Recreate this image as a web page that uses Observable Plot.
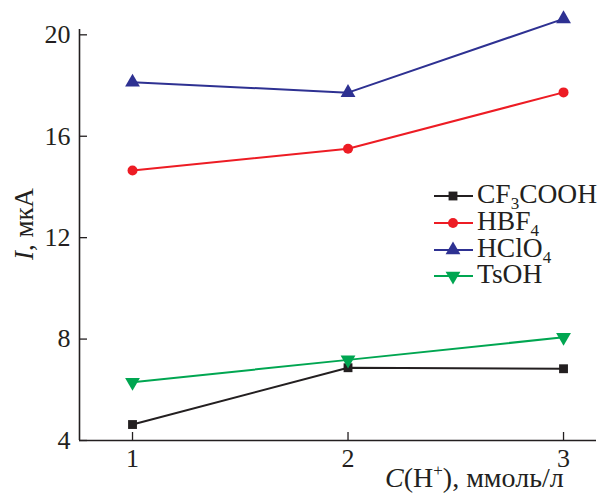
<!DOCTYPE html>
<html><head><meta charset="utf-8">
<script src="https://cdn.jsdelivr.net/npm/d3@7"></script>
<script src="https://cdn.jsdelivr.net/npm/@observablehq/plot@0.6"></script>
<style>
body{margin:0;background:#fff}
#chart{position:relative;width:603px;height:495px}
#chart svg, #chart svg text{font-family:"Liberation Serif","Times New Roman",serif !important}
</style>
</head><body><div id="chart"></div>
<script>
// Data
const xValues = [1, 2, 3];
const cf3coohValues = [4.63, 6.87, 6.83];
const hbf4Values = [14.65, 15.51, 17.73];
const hclo4Values = [18.13, 17.72, 20.63];
const tsohValues = [6.30, 7.18, 8.07];
const xTicks = [1, 2, 3];
const yTicks = [4, 8, 12, 16, 20];
const xDomain = [0.754, 3.153];
const yDomain = [4, 20.21];

const seriesList = [
  {key: "CF3COOH", values: cf3coohValues, color: "#231f20", symbol: "square", rotate: 0, r: 5, label: ["CF", "3", "COOH"]},
  {key: "HBF4", values: hbf4Values, color: "#ed1c24", symbol: "circle", rotate: 0, r: 5, label: ["HBF", "4", ""]},
  {key: "HClO4", values: hclo4Values, color: "#2e3192", symbol: "triangle", rotate: 0, r: 5.5, label: ["HClO", "4", ""]},
  {key: "TsOH", values: tsohValues, color: "#00a651", symbol: "triangle", rotate: 180, r: 5.5, label: ["TsOH", "", ""]}
];
const ink = "#231f20";
const font = "Liberation Serif";

const marks = [];
for (const s of seriesList) {
  const rows = xValues.map((x, i) => ({x, y: s.values[i]}));
  marks.push(Plot.line(rows, {x: "x", y: "y", stroke: s.color, strokeWidth: 2}));
  marks.push(Plot.dot(rows, {x: "x", y: "y", fill: s.color, stroke: "none", symbol: s.symbol, r: s.r, rotate: s.rotate}));
}

const chart = Plot.plot({
  width: 603, height: 495,
  marginLeft: 79, marginRight: 7, marginTop: 29, marginBottom: 55,
  style: {fontSize: "25px", color: ink, background: "#fff"},
  x: {domain: xDomain, axis: null},
  y: {domain: yDomain, axis: null},
  marks: [
    Plot.axisY(yTicks, {tickSize: -8, tickPadding: 17, fontSize: 26, fontFamily: font, stroke: ink, fill: ink, strokeWidth: 1.3, label: null, tickFormat: d => String(d)}),
    Plot.axisX(xTicks, {tickSize: -8, tickPadding: 16, fontSize: 26, fontFamily: font, stroke: ink, fill: ink, strokeWidth: 1.3, label: null, tickFormat: d => String(d)}),
    Plot.ruleX([xDomain[0]], {stroke: ink, strokeWidth: 1.6}),
    Plot.ruleY([yDomain[0]], {stroke: ink, strokeWidth: 1.6}),
    ...marks
  ]
});
document.getElementById("chart").appendChild(chart);

const svg = d3.select(chart);
// y label
const yl = svg.append("text")
  .attr("transform", "translate(33,224) rotate(-90)")
  .attr("text-anchor", "middle")
  .attr("font-size", 27).attr("fill", ink);
yl.append("tspan").attr("font-style", "italic").text("I");
yl.append("tspan").text(", мкА");

// x label
const xl = svg.append("text")
  .attr("x", 385).attr("y", 487)
  .attr("text-anchor", "start")
  .attr("font-size", 28).attr("fill", ink);
xl.append("tspan").attr("font-style", "italic").text("C");
xl.append("tspan").text("(H");
xl.append("tspan").attr("font-size", 17).attr("dy", -11).text("+");
xl.append("tspan").attr("dy", 11).text("), ммоль/л");

// legend
const legendY = [196, 223, 250, 276];
seriesList.forEach((s, i) => {
  const g = svg.append("g").attr("transform", `translate(0,${legendY[i]})`);
  g.append("line").attr("x1", 434).attr("x2", 473).attr("y1", 0).attr("y2", 0)
    .attr("stroke", s.color).attr("stroke-width", 2);
  const sym = {square: d3.symbolSquare, circle: d3.symbolCircle, triangle: d3.symbolTriangle}[s.symbol];
  g.append("path").attr("d", d3.symbol(sym, Math.PI * s.r * s.r)())
    .attr("transform", `translate(453,0) rotate(${s.rotate})`).attr("fill", s.color);
  const t = g.append("text").attr("x", 477).attr("y", 7).attr("text-anchor", "start")
    .attr("font-size", 27.5).attr("fill", ink);
  t.append("tspan").text(s.label[0]);
  if (s.label[1]) t.append("tspan").attr("font-size", 17).attr("dy", 6).text(s.label[1]);
  if (s.label[2]) t.append("tspan").attr("dy", -6).text(s.label[2]);
});
</script></body></html>
